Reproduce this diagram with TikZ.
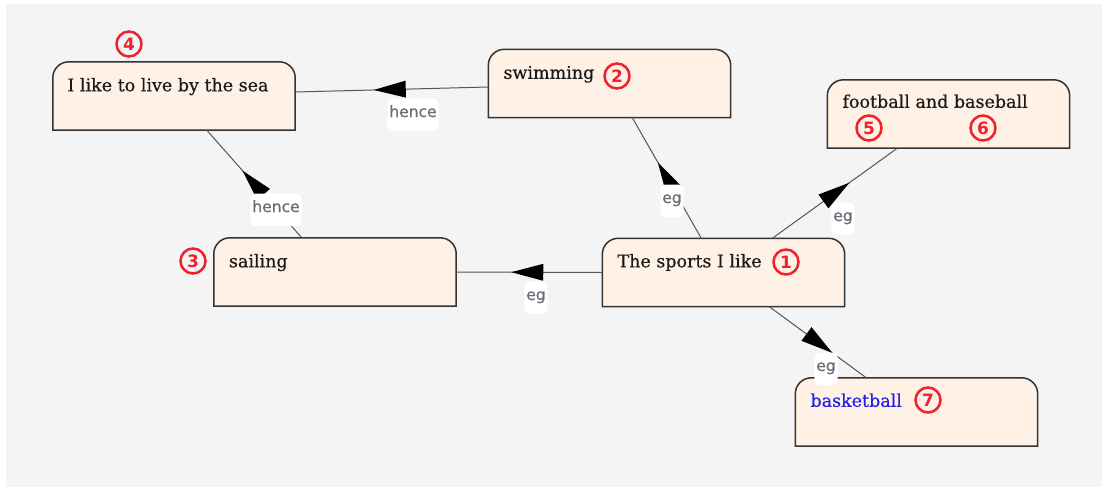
\documentclass[tikz,border=0pt]{standalone}
\usepackage{fontspec}
\setmainfont{DejaVu Serif}
\newfontfamily\boxfont{DejaVu Serif}[FakeBold=0.5]
\newfontfamily\lblfont{DejaVu Sans}[FakeBold=0.6]
\newfontfamily\numfont{DejaVu Sans Bold}
\usetikzlibrary{decorations.markings}
\definecolor{bgc}{HTML}{F4F4F4}
\definecolor{boxfill}{HTML}{FFF1E5}
\definecolor{boxline}{HTML}{333333}
\definecolor{numred}{HTML}{F0202C}
\definecolor{lblgray}{HTML}{6A6C78}
\definecolor{bblue}{HTML}{2020E8}
\definecolor{edgec}{HTML}{555555}
\definecolor{txtc}{HTML}{1A1A1A}
\begin{document}
\begin{tikzpicture}[x=1pt,y=-1pt,
  anchorbox/.style={rectangle, minimum width=242pt, minimum height=68pt, inner sep=0pt},
  boxshape/.style={draw=boxline, fill=boxfill, line width=1.5pt},
  boxtext/.style={anchor=base west, inner sep=0pt, font=\boxfont\fontsize{17.5}{20}\selectfont, text=txtc},
  num/.style={circle, draw=numred, line width=2.5pt, text=numred, inner sep=0pt, minimum size=25pt, font=\numfont\fontsize{17}{17}\selectfont},
  conn/.style={draw=edgec, line width=1pt, postaction={decorate},
    decoration={markings, mark=at position 0.5 with {\fill[black] (-14pt,-8.5pt) -- (18pt,0pt) -- (-14pt,8.5pt) -- cycle;}}},
  lbl/.style={fill=white, rounded corners=5pt, anchor=base, inner xsep=2pt, inner ysep=0pt, text height=18.5pt, text depth=14pt, text=lblgray, font=\lblfont\fontsize{15.5}{16}\selectfont}
]
\useasboundingbox (0,0) rectangle (1109,488);
\fill[bgc] (6,4) rectangle (1102,487);
% anchor nodes for the boxes
\node[anchorbox] (sea) at (174,96) {};
\node[anchorbox] (swim) at (609.5,83.5) {};
\node[anchorbox] (foot) at (948.5,114) {};
\node[anchorbox] (sail) at (335,272) {};
\node[anchorbox] (sports) at (723.5,272.5) {};
\node[anchorbox] (bask) at (916.5,412) {};
% box shapes (rounded top corners only)
\foreach \n in {sea,swim,foot,sail,sports,bask}{
  \draw[boxshape] (\n.south west) -- ([yshift=-16pt]\n.north west)
    arc[start angle=180,end angle=90,radius=16pt]
    -- ([xshift=-16pt]\n.north east)
    arc[start angle=90,end angle=0,radius=16pt]
    -- (\n.south east) -- cycle;
}
% connectors
\draw[conn] ([xshift=99pt]sports.north west) -- ([xshift=144pt]swim.south west);
\draw[conn] ([xshift=170pt]sports.north west) -- ([xshift=70pt]foot.south west);
\draw[conn] (sports.west) -- (sail.east);
\draw[conn] ([xshift=167pt]sports.south west) -- ([xshift=71pt]bask.north west);
\draw[conn] ([yshift=-3.5pt]swim.west) -- ([yshift=4pt]sea.east);
\draw[conn] ([xshift=88pt]sail.north west) -- ([xshift=154pt]sea.south west);
% connector labels
\node[lbl] (l1) at (413,117) {hence};
\node[lbl] (l2) at (276,212) {hence};
\node[lbl] (l3) at (672,203) {eg};
\node[lbl] (l4) at (843,221) {eg};
\node[lbl] (l5) at (536,300) {eg};
\node[lbl] (l6) at (826,371) {eg};
% box texts
\node[boxtext] (tsea) at ([xshift=14.5pt,yshift=-29.5pt]sea.north west) {I like to live by the sea};
\node[boxtext] (tswim) at ([xshift=15pt,yshift=-29.5pt]swim.north west) {swimming};
\node[boxtext] (tfoot) at ([xshift=15pt,yshift=-28pt]foot.north west) {football and baseball};
\node[boxtext] (tsail) at ([xshift=15pt,yshift=-29.5pt]sail.north west) {sailing};
\node[boxtext] (tsports) at ([xshift=15pt,yshift=-29pt]sports.north west) {The sports I like};
\node[boxtext, text=bblue] (tbask) at ([xshift=15pt,yshift=-29pt]bask.north west) {basketball};
% circled numbers
\node[num] (n4) at (129,44) {4};
\node[num] (n2) at (617,76) {2};
\node[num] (n5) at (869,128) {5};
\node[num] (n6) at (983,128) {6};
\node[num] (n3) at (193,261) {3};
\node[num] (n1) at (786,262) {1};
\node[num] (n7) at (928,400) {7};
\end{tikzpicture}
\end{document}
